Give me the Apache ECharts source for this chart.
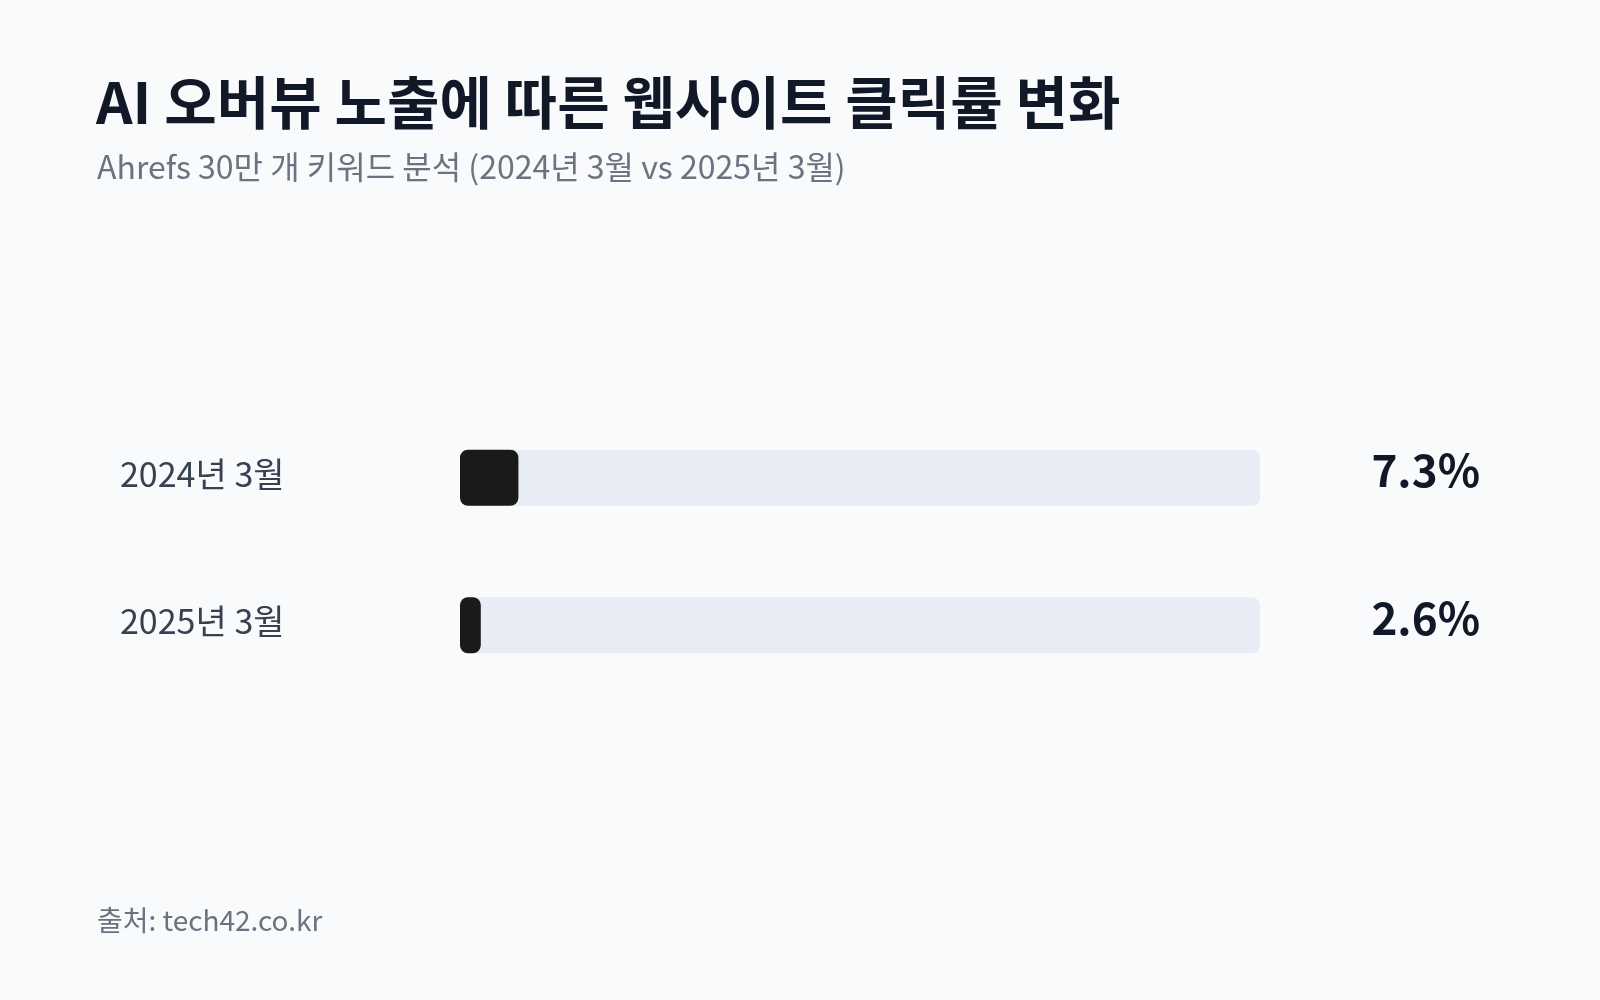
<!DOCTYPE html>
<html>
<head>
<meta charset="utf-8">
<script src="https://cdn.jsdelivr.net/npm/echarts@6/dist/echarts.min.js"></script>
<style>
html,body{margin:0;padding:0;background:#f8fafc;}
#chart{width:1600px;height:1000px;}
</style>
</head>
<body>
<div id="chart"></div>
<script>
const titleText = 'AI 오버뷰 노출에 따른 웹사이트 클릭률 변화';
const subtitleText = 'Ahrefs 30만 개 키워드 분석 (2024년 3월 vs 2025년 3월)';
const sourceText = '출처: tech42.co.kr';
const categories = ['2024년 3월', '2025년 3월'];
const values = [7.3, 2.6];
const valueLabels = ['7.3%', '2.6%'];
const axisMax = 100;

const FONT = '"Noto Sans CJK KR", "Noto Sans", sans-serif';
const hiddenAxisParts = { axisLine: { show: false }, axisTick: { show: false }, splitLine: { show: false } };
const chart = echarts.init(document.getElementById('chart'));
chart.setOption({
  backgroundColor: '#f8fafc',
  animation: false,
  title: [
    { text: titleText, left: 91, top: 69,
      textStyle: { fontFamily: FONT, fontSize: 57, fontWeight: 'bold', color: '#111827' } },
    { text: subtitleText, left: 92, top: 146,
      textStyle: { fontFamily: FONT, fontSize: 32, fontWeight: 'normal', color: '#6b7280' } },
    { text: sourceText, left: 92, top: 901,
      textStyle: { fontFamily: FONT, fontSize: 28, fontWeight: 'normal', color: '#6b7280' } }
  ],
  grid: [
    { left: 460, width: 800, top: 404, height: 295 },
    { left: 460, width: 800, top: 400, height: 295 },
    { left: 460, width: 800, top: 397, height: 295 }
  ],
  xAxis: [
    { type: 'value', min: 0, max: axisMax, show: false, gridIndex: 0 },
    { type: 'value', min: 0, max: axisMax, show: false, gridIndex: 1 },
    { type: 'value', min: 0, max: axisMax, show: false, gridIndex: 2 }
  ],
  yAxis: [
    Object.assign({ type: 'category', data: categories, inverse: true, gridIndex: 0,
      axisLabel: { show: false } }, hiddenAxisParts),
    Object.assign({ type: 'category', data: categories, inverse: true, position: 'left', gridIndex: 1,
      axisLabel: { align: 'left', margin: 340, fontFamily: FONT, fontSize: 34, color: '#374151' } }, hiddenAxisParts),
    Object.assign({ type: 'category', data: valueLabels, inverse: true, position: 'right', gridIndex: 2,
      axisLabel: { align: 'right', margin: 220, fontFamily: FONT, fontSize: 44, fontWeight: 'bold', color: '#111827' } }, hiddenAxisParts)
  ],
  series: [{
    type: 'bar',
    xAxisIndex: 0,
    yAxisIndex: 0,
    data: values,
    barWidth: 56,
    showBackground: true,
    backgroundStyle: { color: '#e8edf5', borderRadius: 8 },
    itemStyle: { color: '#1a1a1a', borderRadius: 8 }
  }]
});
</script>
</body>
</html>
